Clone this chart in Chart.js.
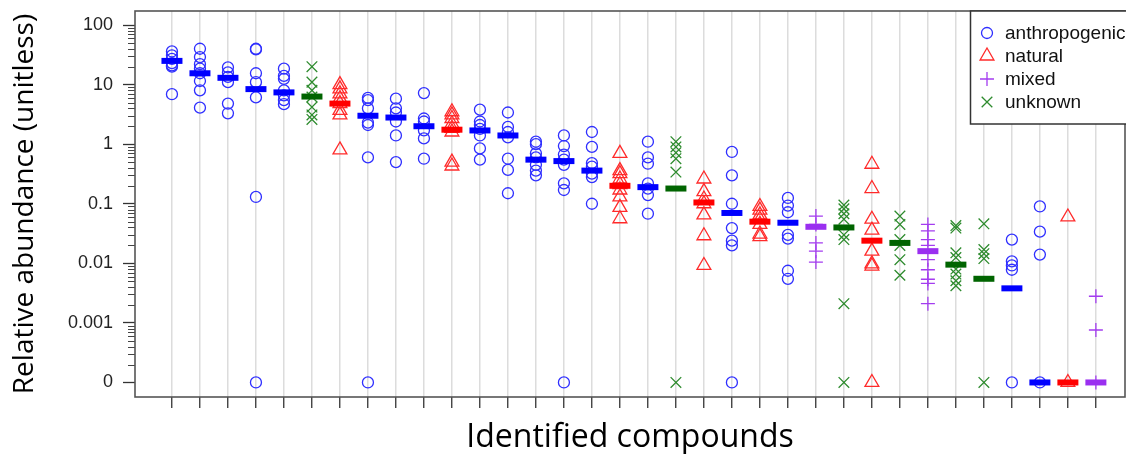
<!DOCTYPE html>
<html lang="en">
<head>
  <meta charset="UTF-8">
  <title>Relative abundance of identified compounds</title>
  <script src="https://cdn.jsdelivr.net/npm/chart.js"></script>
  <style>
    html, body {
      margin: 0;
      padding: 0;
      background: #fff;
      overflow: hidden;
    }
    .chart-box {
      width: 1126px;
      height: 454px;
      position: relative;
    }
    .chart-box canvas {
      display: block;
    }
  </style>
</head>
<body>
  <div class="chart-box"><canvas id="abundanceChart"></canvas></div>

  <script>
    // source categories, in legend order
    const categories = ['anthropogenic', 'natural', 'mixed', 'unknown'];

    // source of each compound, left to right
    const origin = [
      'anthropogenic', 'anthropogenic', 'anthropogenic', 'anthropogenic', 'anthropogenic',
      'unknown', 'natural', 'anthropogenic', 'anthropogenic', 'anthropogenic',
      'natural', 'anthropogenic', 'anthropogenic', 'anthropogenic', 'anthropogenic',
      'anthropogenic', 'natural', 'anthropogenic', 'unknown', 'natural',
      'anthropogenic', 'natural', 'anthropogenic', 'mixed', 'unknown',
      'natural', 'unknown', 'mixed', 'unknown', 'unknown',
      'anthropogenic', 'anthropogenic', 'natural', 'mixed'
    ];

    // individual samples per compound (0 = not detected)
    const observed = [
      [36, 31, 27, 23, 21, 20, 6.9],
      [40, 29, 22, 18.5, 15.5, 11.5, 8, 4.1],
      [19.5, 16, 13.5, 11, 4.8, 3.3],
      [40, 39, 15.5, 11, 6.1, 0.13, 0],
      [18.5, 14, 12.5, 8, 6.6, 5.5, 4.7],
      [20, 11, 8, 6.2, 4.2, 3.1, 2.6],
      [10, 8.5, 7, 5.8, 4.8, 3.7, 3.1, 0.8],
      [6, 5.5, 4, 2.3, 2.1, 0.6, 0],
      [5.8, 4, 3.4, 2.4, 1.4, 0.5],
      [7.2, 2.7, 2.4, 1.7, 1.25, 0.57],
      [3.5, 3.1, 2.7, 2.2, 1.85, 1.6, 0.5, 0.43],
      [3.8, 2.4, 2.1, 1.8, 1.4, 0.85, 0.55],
      [3.4, 1.95, 1.6, 1.3, 0.57, 0.37, 0.15],
      [1.1, 1.0, 0.7, 0.6, 0.45, 0.36, 0.3],
      [1.4, 0.93, 0.67, 0.55, 0.45, 0.22, 0.17, 0],
      [1.6, 0.9, 0.48, 0.42, 0.32, 0.28, 0.1],
      [0.7, 0.36, 0.32, 0.26, 0.21, 0.17, 0.13, 0.087, 0.056],
      [1.1, 0.6, 0.47, 0.22, 0.18, 0.14, 0.068],
      [1.1, 0.9, 0.72, 0.57, 0.34, 0],
      [0.26, 0.16, 0.12, 0.1, 0.065, 0.029, 0.0092],
      [0.74, 0.3, 0.1, 0.039, 0.024, 0.02, 0],
      [0.09, 0.078, 0.065, 0.055, 0.045, 0.031, 0.028],
      [0.125, 0.093, 0.072, 0.03, 0.026, 0.0075, 0.0055],
      [0.062, 0.045, 0.022, 0.016, 0.0105],
      [0.095, 0.082, 0.068, 0.055, 0.03, 0.025, 0.0021, 0],
      [0.46, 0.18, 0.055, 0.036, 0.016, 0.0098, 0.009, 0],
      [0.062, 0.045, 0.025, 0.02, 0.0115, 0.0063],
      [0.045, 0.035, 0.025, 0.02, 0.0115, 0.0078, 0.0054, 0.0046, 0.0021],
      [0.043, 0.039, 0.015, 0.0125, 0.008, 0.0066, 0.0051, 0.0042],
      [0.046, 0.017, 0.0145, 0.012, 0],
      [0.025, 0.0108, 0.0092, 0.0078, 0],
      [0.09, 0.034, 0.014, 0],
      [0.06, 0],
      [0.0028, 0.00076, 0]
    ];

    // median per compound
    const medians = [
      25, 15.5, 13, 8.4, 7.4, 6.3, 4.8, 3, 2.8, 2.0,
      1.75, 1.7, 1.4, 0.55, 0.52, 0.36, 0.2, 0.19, 0.18, 0.105,
      0.07, 0.05, 0.048, 0.041, 0.04, 0.024, 0.022, 0.016, 0.0095, 0.0055,
      0.0038, 0, 0, 0
    ];

    const yTickValues = [0.0001, 0.001, 0.01, 0.1, 1, 10, 100];
    const yTickLabels = ['0', '0.001', '0.01', '0.1', '1', '10', '100'];

    // zeros can't sit on a log axis, so they go on the "0" tick
    const ZERO = yTickValues[0];

    const markStyle = {
      anthropogenic: { shape: 'circle', radius: 5.5, color: '#2f2fff', median: '#0000ff' },
      natural: { shape: 'triangle', radius: 8, color: '#ff2a2a', median: '#ff0000' },
      mixed: { shape: 'cross', radius: 7, color: '#a43cf0', median: '#9a2ff0' },
      unknown: { shape: 'crossRot', radius: 7.5, color: '#2e8b2e', median: '#006400' }
    };

    const datasets = [];
    categories.forEach(cat => {
      const st = markStyle[cat];
      const points = [];
      const mids = [];
      origin.forEach((o, i) => {
        if (o !== cat) return;
        observed[i].forEach(v => points.push({ x: i, y: v > 0 ? v : ZERO }));
        mids.push({ x: i, y: medians[i] > 0 ? medians[i] : ZERO });
      });
      datasets.push({
        label: cat,
        data: points,
        pointStyle: st.shape,
        pointRadius: st.radius,
        pointBorderWidth: 1.3,
        borderColor: st.color,
        backgroundColor: 'rgba(0,0,0,0)',
        order: 2
      });
      datasets.push({
        label: cat + ' median',
        data: mids,
        pointStyle: 'line',
        pointRadius: 10.5,
        pointBorderWidth: 6,
        borderColor: st.median,
        backgroundColor: st.median,
        order: 1
      });
    });

    // box, minor log ticks and the boxed legend
    const framePlugin = {
      id: 'frame',
      afterDraw(chart) {
        const { ctx, chartArea: a } = chart;
        const y = chart.scales.y;
        ctx.save();

        ctx.strokeStyle = '#444';
        ctx.lineWidth = 1.2;
        ctx.beginPath();
        for (let e = -4; e <= 2; e++) {
          for (let k = 2; k <= 9; k++) {
            const v = k * Math.pow(10, e);
            if (v > y.max) continue;
            const py = Math.round(y.getPixelForValue(v)) + 0.5;
            ctx.moveTo(a.left - 7, py);
            ctx.lineTo(a.left, py);
          }
        }
        ctx.stroke();

        ctx.strokeStyle = '#555';
        ctx.lineWidth = 1.6;
        ctx.strokeRect(a.left, a.top, a.right - a.left, a.bottom - a.top);

        // legend
        const lx = a.right - 154.5;
        const ly = a.top;
        ctx.fillStyle = '#fff';
        ctx.fillRect(lx, ly, 160, 113);
        ctx.strokeStyle = '#333';
        ctx.lineWidth = 1.5;
        ctx.strokeRect(lx, ly, 160, 113);

        ctx.font = '19px "Liberation Sans", Arial, sans-serif';
        ctx.textBaseline = 'middle';
        ctx.textAlign = 'left';
        categories.forEach((cat, i) => {
          const st = markStyle[cat];
          const ry = ly + 22 + i * 23;
          ctx.strokeStyle = st.color;
          ctx.fillStyle = 'rgba(0,0,0,0)';
          ctx.lineWidth = 1.3;
          Chart.helpers.drawPoint(ctx, {
            pointStyle: st.shape,
            radius: st.radius,
            borderWidth: 1.3,
            rotation: 0
          }, lx + 16.5, ry);
          ctx.fillStyle = '#111';
          ctx.fillText(cat, lx + 34.5, ry + 1);
        });

        ctx.restore();
      }
    };

    new Chart(document.getElementById('abundanceChart'), {
      type: 'scatter',
      data: { datasets },
      options: {
        responsive: true,
        maintainAspectRatio: false,
        animation: false,
        events: [],
        layout: {
          autoPadding: false,
          padding: { top: 11, right: 1, left: 0, bottom: 0 }
        },
        plugins: {
          legend: { display: false },
          tooltip: { enabled: false }
        },
        scales: {
          x: {
            type: 'linear',
            min: -1.32,
            max: 34.04,
            afterBuildTicks(scale) {
              scale.ticks = origin.map((o, i) => ({ value: i }));
            },
            afterFit(scale) {
              scale.height = 57;
              scale.paddingLeft = 0;
              scale.paddingRight = 0;
            },
            ticks: { display: false, autoSkip: false },
            grid: {
              color: '#dcdcdc',
              lineWidth: 1.5,
              tickColor: '#333',
              tickWidth: 1.3,
              tickLength: 11
            },
            border: { display: false },
            title: {
              display: true,
              text: 'Identified compounds',
              color: '#000',
              font: { family: '"Open Sans", sans-serif', size: 32, lineHeight: 1 },
              padding: { top: 0, bottom: 0 }
            }
          },
          y: {
            type: 'logarithmic',
            min: 5.7e-5,
            max: 172,
            bounds: 'data',
            afterBuildTicks(scale) {
              scale.ticks = yTickValues.map(v => ({ value: v }));
            },
            afterFit(scale) {
              scale.width = 135;
              scale.paddingTop = 0;
              scale.paddingBottom = 0;
            },
            ticks: {
              autoSkip: false,
              padding: 10,
              color: '#222',
              font: { family: '"Liberation Sans", Arial, sans-serif', size: 18 },
              callback: (value, index) => yTickLabels[index]
            },
            grid: {
              drawOnChartArea: false,
              tickColor: '#333',
              tickWidth: 1.3,
              tickLength: 12
            },
            border: { display: false },
            title: {
              display: true,
              text: 'Relative abundance (unitless)',
              color: '#000',
              font: { family: '"Open Sans", sans-serif', size: 28, lineHeight: 1 },
              padding: { top: 11, bottom: 0 }
            }
          }
        }
      },
      plugins: [framePlugin]
    });
  </script>
</body>
</html>
